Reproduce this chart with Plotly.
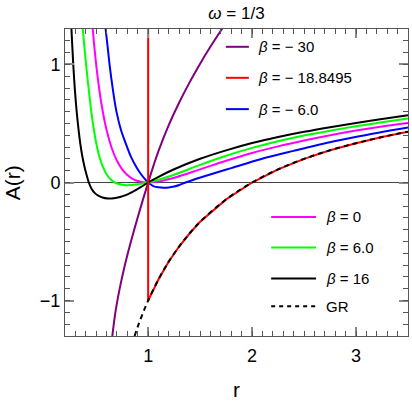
import plotly.graph_objects as go

# A(r) curves, omega = 1/3
r_m30 = [0.65, 0.66, 0.68, 0.70, 0.73, 0.77, 0.81, 0.855, 0.90, 0.95, 1.0, 1.05, 1.1, 1.2, 1.3,
         1.4, 1.5, 1.6, 1.73]
A_m30 = [-1.344, -1.266, -1.13, -1.02, -0.882, -0.722, -0.581, -0.434, -0.295, -0.145, 0.0, 0.139,
         0.268, 0.49, 0.68, 0.85, 1.006, 1.151, 1.327]

r_m6 = [0.585, 0.591, 0.61, 0.63, 0.66, 0.695, 0.74, 0.785, 0.835, 0.886, 0.93, 0.968, 1.0, 1.05,
        1.1, 1.15, 1.2, 1.25, 1.3, 1.36, 1.45, 1.565, 1.8, 2.08, 2.4, 2.79, 3.1, 3.5]
A_m6 = [1.35, 1.30, 1.15, 0.99, 0.79, 0.60, 0.44, 0.33, 0.217, 0.132, 0.072, 0.03, 0.0, -0.03,
        -0.041, -0.044, -0.042, -0.034, -0.021, 0.0, 0.028, 0.06, 0.122, 0.197, 0.268, 0.349, 0.403, 0.465]

r_0 = [0.46, 0.467, 0.48, 0.50, 0.52, 0.55, 0.60, 0.65, 0.70, 0.75, 0.80, 0.85, 0.90, 0.95, 1.0,
       1.1, 1.25, 1.5, 1.75, 2.0, 2.25, 2.5, 2.75, 3.0, 3.25, 3.5]
A_0 = [1.381, 1.30, 1.17, 1.0, 0.852, 0.669, 0.444, 0.29, 0.184, 0.111, 0.0625, 0.031, 0.0123, 0.0028, 0.0,
       0.0083, 0.04, 0.111, 0.184, 0.25, 0.306, 0.355, 0.40, 0.44, 0.475, 0.505]

r_6 = [0.365, 0.371, 0.39, 0.404, 0.43, 0.453, 0.477, 0.501, 0.533, 0.565, 0.60, 0.64, 0.678, 0.73,
       0.79, 0.86, 0.93, 1.0, 1.1, 1.25, 1.5, 1.75, 2.0, 2.25, 2.5, 2.75, 3.0, 3.25, 3.5]
A_6 = [1.36, 1.30, 1.117, 0.99, 0.773, 0.60, 0.451, 0.33, 0.212, 0.132, 0.07, 0.025, 0.0, -0.015,
       -0.023, -0.02, -0.011, 0.0, 0.024, 0.066, 0.149, 0.226, 0.293, 0.35, 0.398, 0.439, 0.476, 0.51, 0.542]

r_16 = [0.256, 0.262, 0.27, 0.28, 0.295, 0.312, 0.33, 0.347, 0.367, 0.388, 0.41, 0.429, 0.455, 0.485,
        0.52, 0.56, 0.613, 0.67, 0.73, 0.791, 0.85, 0.92, 1.0, 1.1, 1.25, 1.5, 1.75, 2.0, 2.25, 2.5,
        2.75, 3.0, 3.25, 3.5]
A_16 = [1.41, 1.30, 1.155, 0.99, 0.787, 0.605, 0.452, 0.33, 0.22, 0.132, 0.057, 0.0, -0.052, -0.088,
        -0.112, -0.127, -0.135, -0.133, -0.122, -0.105, -0.08, -0.044, 0.0, 0.048, 0.112, 0.201, 0.272,
        0.334, 0.385, 0.429, 0.468, 0.504, 0.538, 0.570]

r_gr = [0.87, 0.9, 0.95, 1.0, 1.1, 1.2, 1.3, 1.4, 1.5, 1.75, 2.0, 2.25, 2.5, 2.75, 3.0, 3.25, 3.5]
A_gr = [-1.30, -1.22, -1.105, -1.0, -0.82, -0.667, -0.54, -0.43, -0.333, -0.143, 0.0, 0.111, 0.2, 0.273,
        0.333, 0.385, 0.43]

# beta = -18.8495: vertical wall at r = 1, then the GR branch
r_crit = [1.0, 1.0] + r_gr[3:]
A_crit = [1.35, -1.0] + A_gr[3:]

x_range = [0.2, 3.5]
y_range = [-1.3, 1.3]

curves = [
    (r_m30, A_m30, "#800080", "spline", None),
    (r_m6, A_m6, "#0000ff", "spline", None),
    (r_0, A_0, "#ff00ff", "spline", None),
    (r_6, A_6, "#00ff00", "spline", None),
    (r_16, A_16, "#000000", "spline", None),
    (r_crit, A_crit, "#ff0000", "linear", None),
    (r_gr, A_gr, "#000000", "spline", "5px,4px"),
]

fig = go.Figure()
for xs, ys, color, shape, dash in curves:
    fig.add_trace(go.Scatter(
        x=xs, y=ys, mode="lines",
        line=dict(color=color, width=2, shape=shape, dash=dash),
        showlegend=False, hoverinfo="skip",
    ))

# empty trace that keeps the minor-tick overlay axes alive
fig.add_trace(go.Scatter(x=[None], y=[None], xaxis="x2", yaxis="y2", showlegend=False, hoverinfo="skip"))

# hand-made legends, two groups as in the reference
legend_top = [("#800080", "<i>β</i> = − 30", None),
              ("#ff0000", "<i>β</i> = − 18.8495", None),
              ("#0000ff", "<i>β</i> = − 6.0", None)]
legend_bottom = [("#ff00ff", "<i>β</i> = 0", None),
                 ("#00ff00", "<i>β</i> = 6.0", None),
                 ("#000000", "<i>β</i> = 16", None),
                 ("#000000", "GR", "4px,4px")]

shapes = []
annotations = []
for (color, label, dash), y in zip(legend_top, [0.942, 0.841, 0.739]):
    shapes.append(dict(type="line", xref="paper", yref="paper", x0=0.469, x1=0.536, y0=y, y1=y,
                       line=dict(color=color, width=2, dash=dash)))
    annotations.append(dict(xref="paper", yref="paper", x=0.557, y=y, text=label, showarrow=False,
                            xanchor="left", yanchor="middle", font=dict(size=15)))
for (color, label, dash), y in zip(legend_bottom, [0.388, 0.288, 0.187, 0.097]):
    shapes.append(dict(type="line", xref="paper", yref="paper", x0=0.601, x1=0.732, y0=y, y1=y,
                       line=dict(color=color, width=2, dash=dash)))
    annotations.append(dict(xref="paper", yref="paper", x=0.756, y=y, text=label, showarrow=False,
                            xanchor="left", yanchor="middle", font=dict(size=15)))

# axis titles
annotations.append(dict(xref="paper", yref="paper", x=0.5, y=-0.173, text="r", showarrow=False,
                        xanchor="center", yanchor="middle", font=dict(size=21)))
annotations.append(dict(xref="paper", yref="paper", x=-0.152, y=0.5, text="A(r)", showarrow=False,
                        textangle=-90, xanchor="center", yanchor="middle", font=dict(size=21)))

major = dict(
    showgrid=False, showline=True, linecolor="#555555", linewidth=1, mirror="ticks",
    ticks="inside", ticklen=9, tickcolor="#888888", tickwidth=1.5, automargin=False,
    tick0=0, dtick=1, tickfont=dict(size=18, color="black"),
)
minor = dict(
    showgrid=False, showline=True, linecolor="#555555", linewidth=1, mirror="ticks",
    ticks="inside", ticklen=5, tickcolor="#555555", tickwidth=1, automargin=False,
    tick0=0, dtick=0.1, showticklabels=False, zeroline=False,
)

fig.update_layout(
    width=412, height=404,
    margin=dict(l=65, r=4, t=29, b=68),
    paper_bgcolor="white", plot_bgcolor="white",
    font=dict(family="Liberation Sans, Arial, sans-serif", color="black"),
    title=dict(text="<i>ω</i> = 1/3", x=0.5, xref="paper", y=0.968, yanchor="middle", font=dict(size=17)),
    xaxis=dict(range=x_range, zeroline=False, ticklabelstandoff=3, **major),
    yaxis=dict(range=y_range, zeroline=True, zerolinecolor="#444444", zerolinewidth=1, **major),
    xaxis2=dict(range=x_range, overlaying="x", anchor="y2", **minor),
    yaxis2=dict(range=y_range, overlaying="y", anchor="x2", **minor),
    shapes=shapes,
    annotations=annotations,
)

# drop the page's default 8px body margin so the figure sits at the window corner
fig.write_html("out.html", config={"displayModeBar": False},
               post_script="document.body.style.margin = '0';")
